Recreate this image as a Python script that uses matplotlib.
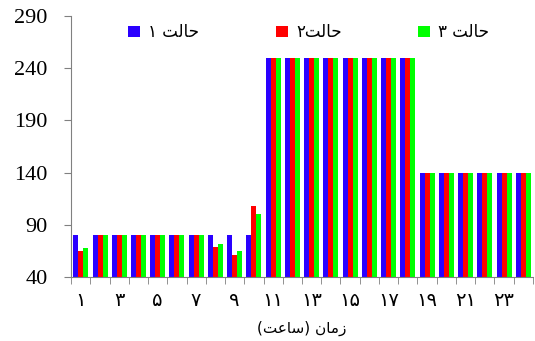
import matplotlib.pyplot as plt
import numpy as np

# hours 1..24
hours = np.arange(1, 25)
state1 = [80, 80, 80, 80, 80, 80, 80, 80, 80, 80,
          250, 250, 250, 250, 250, 250, 250, 250,
          140, 140, 140, 140, 140, 140]
state2 = [65, 80, 80, 80, 80, 80, 80, 69, 61, 108,
          250, 250, 250, 250, 250, 250, 250, 250,
          140, 140, 140, 140, 140, 140]
state3 = [68, 80, 80, 80, 80, 80, 80, 72, 65, 100,
          250, 250, 250, 250, 250, 250, 250, 250,
          140, 140, 140, 140, 140, 140]

# labels written in visual (left-to-right) order with shaped glyphs,
# because matplotlib does no Arabic shaping / bidi
labels = ['۱ ﺖﻟﺎﺣ', '۲ﺖﻟﺎﺣ', '۳ ﺖﻟﺎﺣ']
xlabel = '(ﺖﻋﺎﺳ) ﻥﺎﻣﺯ'
fa_digits = '۰۱۲۳۴۵۶۷۸۹'
xticks = [h for h in hours if h % 2 == 1]
xticklabels = [''.join(fa_digits[int(c)] for c in str(h)) for h in xticks]
yticks = [40, 90, 140, 190, 240, 290]

colors = ['#2a00ff', '#ff0000', '#00ff00']
plt.rcParams['font.family'] = ['Liberation Serif', 'DejaVu Sans']

fig = plt.figure(figsize=(5.35, 3.41), dpi=100)
ax = fig.add_axes([0.133, 0.188, 0.863, 0.765])

w = 0.26
for i, (vals, c, lab) in enumerate(zip([state1, state2, state3], colors, labels)):
    ax.bar(hours + (i - 1) * w, np.array(vals) - 40, width=w, bottom=40,
           color=c, label=lab, linewidth=0)

ax.set_ylim(40, 290)
ax.set_xlim(0.5, 24.5)
ax.set_yticks(yticks)
ax.set_yticklabels([str(t) for t in yticks], fontsize=16)
ax.set_xticks(xticks)
ax.set_xticklabels(xticklabels, fontsize=14, family=['DejaVu Sans'])
ax.set_xticks(np.arange(0.5, 25, 1), minor=True)
ax.tick_params(axis='x', which='major', length=0, pad=10)
ax.tick_params(axis='x', which='minor', length=5, color='#808080')
ax.tick_params(axis='y', length=5, color='#808080', pad=12)

for s in ['top', 'right']:
    ax.spines[s].set_visible(False)
for s in ['left', 'bottom']:
    ax.spines[s].set_color('#808080')

ax.set_xlabel(xlabel, fontsize=11, family=['DejaVu Sans'], labelpad=8)

leg = ax.legend(ncol=3, frameon=False, loc='upper center',
                bbox_to_anchor=(0.515, 1.03), columnspacing=4.6,
                handlelength=0.7, handleheight=0.7, handletextpad=0.5,
                prop={'family': 'DejaVu Sans', 'size': 12})

fig.savefig('out.png', dpi=100)
